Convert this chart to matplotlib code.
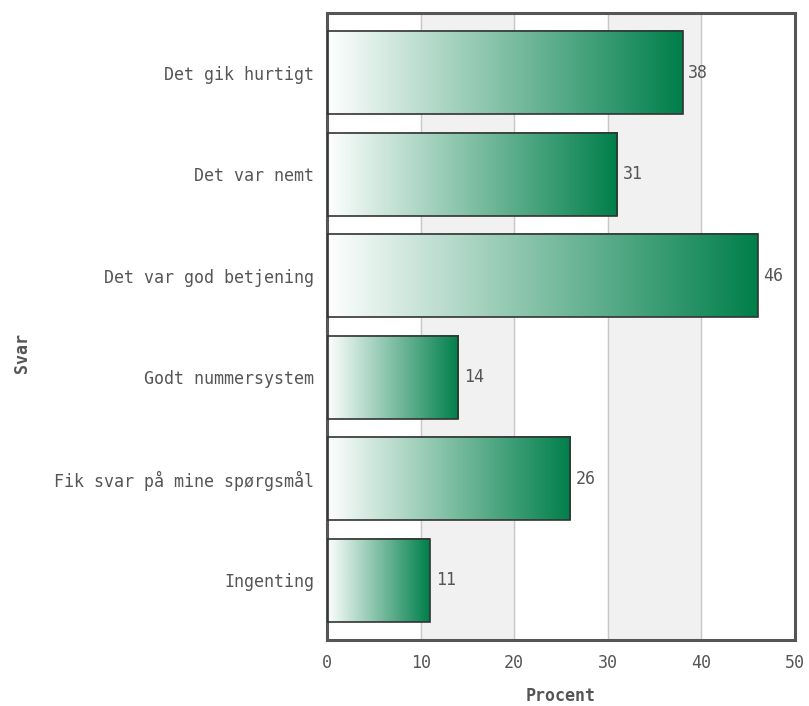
import numpy as np
from matplotlib import pyplot as plt
from matplotlib.colors import LinearSegmentedColormap

plt.rcParams['font.family'] = ['DejaVu Sans Mono', 'DejaVu Sans']

#data
categories = ['Det gik hurtigt', 'Det var nemt', 'Det var god betjening',
              'Godt nummersystem', 'Fik svar på mine spørgsmål', 'Ingenting']
values = [38, 31, 46, 14, 26, 11]
xticks = [0, 10, 20, 30, 40, 50]

text_color = '#555555'
green = LinearSegmentedColormap.from_list('grn', ['#ffffff', '#007f4a'])

fig = plt.figure(figsize=(8.09, 7.06), dpi=100)
ax = fig.add_axes([0.4042, 0.0935, 0.5785, 0.8881])

#alternating bands + grid
for i in range(len(xticks) - 1):
    if i % 2 == 1:
        ax.axvspan(xticks[i], xticks[i + 1], color='#f1f1f1', zorder=0)
for x in xticks[1:-1]:
    ax.axvline(x, color='#c8c8c8', linewidth=1, zorder=1)

#bars with gradient
h = 0.82
grad = np.linspace(0, 1, 256).reshape(1, -1)
for i, v in enumerate(values):
    ax.imshow(grad, cmap=green, aspect='auto', interpolation='bilinear',
              extent=[0, v, i + h / 2, i - h / 2], zorder=2)
    ax.barh(i, v, height=h, facecolor='none', edgecolor='#333333',
            linewidth=1.2, zorder=3)
    ax.text(v + 0.6, i, str(v), va='center', ha='left', fontsize=12,
            color=text_color, zorder=4)

ax.set_xlim(0, 50)
ax.set_ylim(len(values) - 1 + 0.59, -0.59)
ax.set_xticks(xticks)
ax.set_yticks(range(len(categories)))
ax.set_yticklabels(categories)
ax.tick_params(axis='both', length=0, labelsize=12, labelcolor=text_color)
ax.tick_params(axis='y', pad=9)
ax.tick_params(axis='x', pad=10)

for s in ax.spines.values():
    s.set_color('#555555')
    s.set_linewidth(2.2)

ax.set_xlabel('Procent', fontsize=12, fontweight='bold', color=text_color, labelpad=11)
fig.text(0.027, 0.5, 'Svar', rotation=90, va='center', ha='center',
         fontsize=12, fontweight='bold', color=text_color)

plt.savefig('out.png', dpi=100)
